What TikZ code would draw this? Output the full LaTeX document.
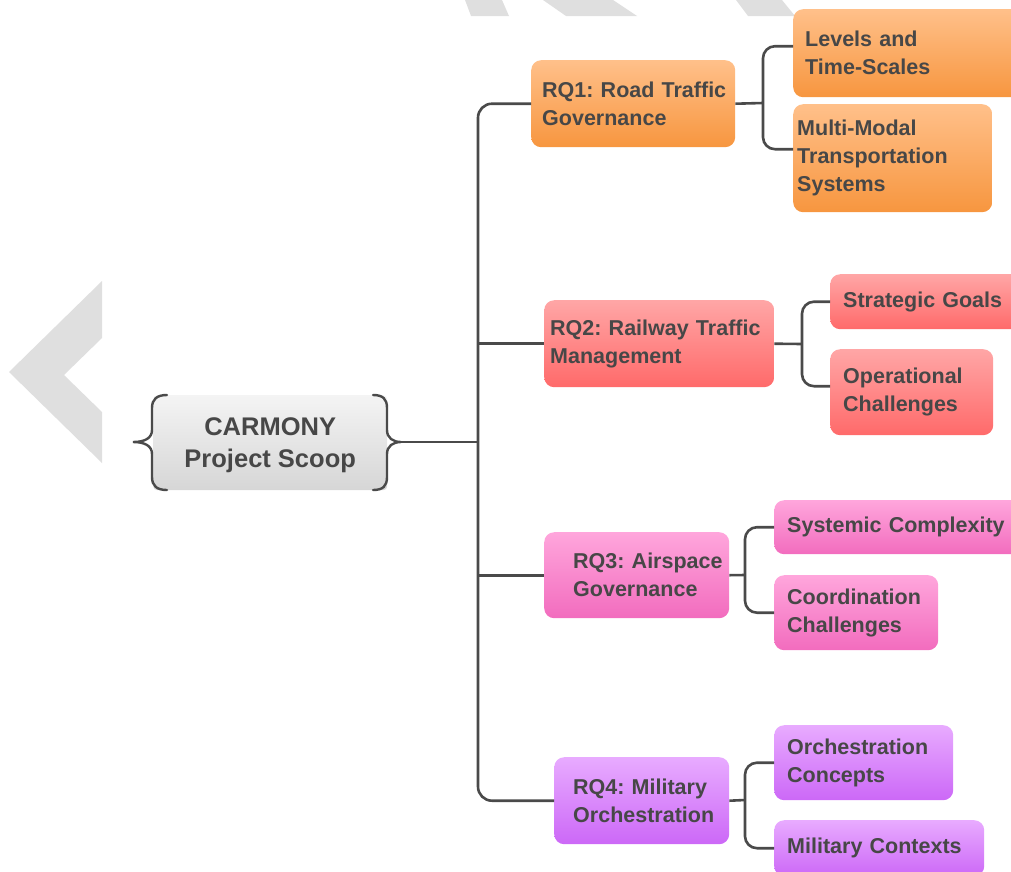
\documentclass[tikz,border=0pt]{standalone}
\usepackage{fontspec}
\setmainfont{Liberation Sans}
\definecolor{linegray}{HTML}{4A4A4A}
\definecolor{txtgray}{HTML}{474747}
\definecolor{markgray}{HTML}{DFDFDF}
\definecolor{rootTop}{HTML}{F4F4F4}
\definecolor{rootBot}{HTML}{D6D6D6}
\definecolor{orTop}{HTML}{FFC08A}
\definecolor{orBot}{HTML}{F7963F}
\definecolor{rdTop}{HTML}{FFA6A6}
\definecolor{rdBot}{HTML}{FF6A6A}
\definecolor{pkTop}{HTML}{FFA6DC}
\definecolor{pkBot}{HTML}{F26CBE}
\definecolor{ppTop}{HTML}{E8ABFF}
\definecolor{ppBot}{HTML}{CC68F7}
\begin{document}
\begin{tikzpicture}[x=1pt,y=-1pt,
  conn/.style={draw=linegray, line width=2.6pt},
  bgshape/.style={fill=markgray, draw=none},
  card/.style={anchor=north west, rounded corners=10pt, inner ysep=0pt,
    align=left, text=txtgray,
    execute at begin node={\hyphenpenalty=10000 \exhyphenpenalty=10000 },
    font=\fontsize{21.5}{28}\selectfont\bfseries},
  orangecard/.style={card, top color=orTop, bottom color=orBot},
  redcard/.style={card, top color=rdTop, bottom color=rdBot},
  pinkcard/.style={card, top color=pkTop, bottom color=pkBot},
  purplecard/.style={card, top color=ppTop, bottom color=ppBot},
  rootcard/.style={anchor=north west, rounded corners=4pt, inner sep=0pt,
    align=center, text=txtgray, top color=rootTop, bottom color=rootBot,
    text depth=-13pt, font=\fontsize{25.5}{32}\selectfont\bfseries},
  brace/.style={draw=linegray, line width=2.4pt, line cap=round}
]
\useasboundingbox (0,0) rectangle (1011,871);
\clip (0,0) rectangle (1011,871);

% background shapes
\fill[bgshape] (9,372) -- (102,281) -- (102,338) -- (64,375) -- (102,412) -- (102,463) -- cycle;
\fill[bgshape] (465,0) -- (502,0) -- (509,16) -- (471,16) -- cycle;
\fill[bgshape] (543,0) -- (613,0) -- (637,16) -- (566,16) -- cycle;
\fill[bgshape] (736,0) -- (782,0) -- (795,16) -- (748,16) -- cycle;

% root
\node[rootcard, minimum width=234pt, minimum height=95pt] (root) at (153,395)
  {CARMONY\\Project Scoop};
\draw[brace] (167,395) .. controls (157,395) and (152,399) .. (152,408)
  -- (152,430) .. controls (152,438) and (145,442) .. (133,442)
  .. controls (145,442) and (152,446) .. (152,454)
  -- (152,477) .. controls (152,486) and (157,490) .. (167,490);
\draw[brace] (373,395) .. controls (383,395) and (387,399) .. (387,408)
  -- (387,430) .. controls (387,438) and (393,442) .. (401,442)
  .. controls (393,442) and (387,446) .. (387,454)
  -- (387,477) .. controls (387,486) and (383,490) .. (373,490);

% research questions
\node[orangecard, minimum height=87pt, text width=182pt, inner xsep=11pt] (rq1) at (531,60)
  {RQ1:~Road~Traffic\\Governance};
\node[redcard, minimum height=87pt, text width=218pt, inner xsep=6pt] (rq2) at (544,300)
  {RQ2:~Railway~Traffic\\Management};
\node[pinkcard, minimum height=86pt, text width=127pt, inner xsep=29pt] (rq3) at (544,532)
  {RQ3:~Airspace\\Governance};
\node[purplecard, minimum height=87pt, text width=137pt, inner xsep=19pt] (rq4) at (554,757)
  {RQ4:~Military\\Orchestration};

% topics
\node[orangecard, minimum height=88pt, text width=216pt, inner xsep=12pt] (c11) at (793,9)
  {Levels~and\\Time-Scales};
\node[orangecard, minimum height=108pt, text width=191pt, inner xsep=4pt] (c12) at (793,104)
  {Multi-Modal\\Transportation\\Systems};
\node[redcard, minimum height=55pt, text width=174pt, inner xsep=13pt] (c21) at (830,274)
  {Strategic~Goals};
\node[redcard, minimum height=86pt, text width=137pt, inner xsep=13pt] (c22) at (830,349)
  {Operational\\Challenges};
\node[pinkcard, minimum height=54pt, text width=230pt, inner xsep=13pt] (c31) at (774,500)
  {Systemic~Complexity};
\node[pinkcard, minimum height=75pt, text width=138pt, inner xsep=13pt] (c32) at (774,575)
  {Coordination\\Challenges};
\node[purplecard, minimum height=75pt, text width=153pt, inner xsep=13pt] (c41) at (774,725)
  {Orchestration\\Concepts};
\node[purplecard, minimum height=56pt, text width=184pt, inner xsep=13pt] (c42) at (774,820)
  {Military~Contexts};

% main trunk
\coordinate (rootout) at (401,442);
\coordinate (trunk) at (478,442);
\draw[conn] (rootout) -- (trunk);
\draw[conn, rounded corners=14pt] (rq1.west) -| (trunk) |- (rq4.west);
\draw[conn] (trunk |- rq2.west) -- (rq2.west);
\draw[conn] (trunk |- rq3.west) -- (rq3.west);

% branch junctions
\coordinate (j1) at (763,103);
\coordinate (j2) at (802,344);
\coordinate (j3) at (745,575);
\coordinate (j4) at (745,800);

\draw[conn] (rq1.east) -- (j1);
\draw[conn, rounded corners=12pt] ([yshift=7pt]c11.west) -| (j1) |- ([yshift=9pt]c12.west);

\draw[conn] (rq2.east) -- (j2);
\draw[conn, rounded corners=12pt] (c21.west) -| (j2) |- ([yshift=6pt]c22.west);

\draw[conn] (rq3.east) -- (j3);
\draw[conn, rounded corners=12pt] (c31.west) -| (j3) |- (c32.west);

\draw[conn] (rq4.east) -- (j4);
\draw[conn, rounded corners=12pt] (c41.west) -| (j4) |- (c42.west);
\end{tikzpicture}
\end{document}
